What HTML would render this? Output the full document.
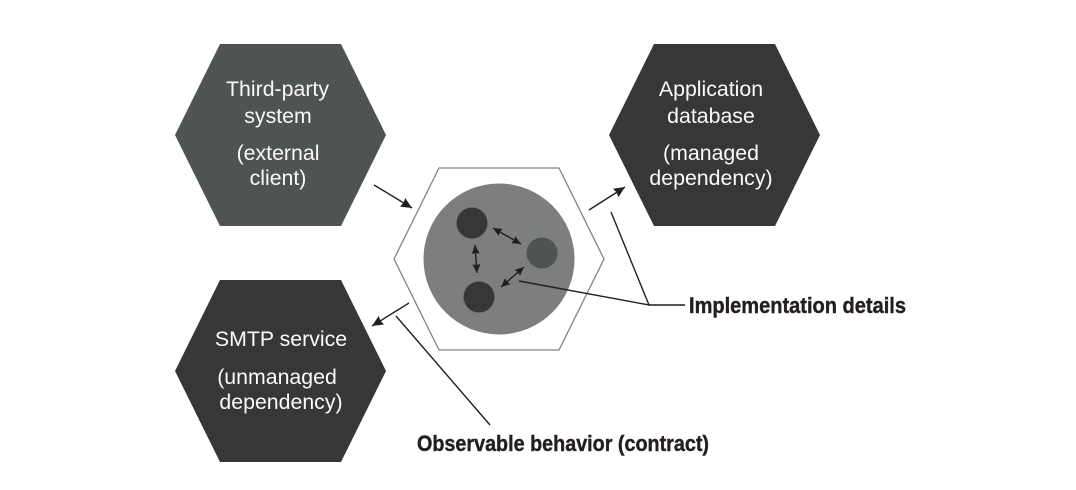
<!DOCTYPE html>
<html>
<head>
<meta charset="utf-8">
<style>
html,body{margin:0;padding:0;background:#fff;width:1076px;height:490px;overflow:hidden}
svg{display:block}
.w{font-family:"Liberation Sans",sans-serif;font-size:21.3px;fill:#fafafa;text-anchor:middle}
.b{font-family:"Liberation Sans",sans-serif;font-size:22.5px;font-weight:bold;fill:#231f20;stroke:#231f20;stroke-width:.4px}
</style>
</head>
<body>
<svg width="1076" height="490" viewBox="0 0 1076 490" xmlns="http://www.w3.org/2000/svg">
<defs>
<marker id="a" viewBox="0 0 11 10" refX="11" refY="5" markerWidth="11" markerHeight="10" markerUnits="userSpaceOnUse" orient="auto-start-reverse"><path d="M0 0L11 5L0 10L1 5Z" fill="#231f20"/></marker>
<marker id="c" viewBox="0 0 11 10" refX="11" refY="5" markerWidth="9" markerHeight="8" markerUnits="userSpaceOnUse" orient="auto-start-reverse"><path d="M0 0L11 5L0 10L1 5Z" fill="#231f20"/></marker>
</defs>
<polygon points="220,44 341,44 386,135 341,226 220,226 175,135" fill="#505354"/>
<polygon points="654,44 775,44 820,135 775,226 654,226 609,135" fill="#363739"/>
<polygon points="220,280 341,280 386,371 341,462 220,462 175,371" fill="#363739"/>
<polygon points="439,168 559,168 604,259 559,350 439,350 394,259" fill="#fff" stroke="#808284" stroke-width="1.3"/>
<circle cx="499" cy="259" r="75.5" fill="#7c7e80"/>
<circle cx="472" cy="223" r="15.5" fill="#363739"/>
<circle cx="542" cy="253" r="15.5" fill="#505354"/>
<circle cx="479" cy="297" r="15.5" fill="#363739"/>
<g fill="none" stroke="#231f20" stroke-width="1.4">
<line x1="374" y1="185" x2="412" y2="208" marker-end="url(#a)"/>
<line x1="589" y1="210" x2="625" y2="187" marker-end="url(#a)"/>
<line x1="409" y1="303" x2="372" y2="326" marker-end="url(#a)"/>
<line x1="493" y1="228" x2="521" y2="244" marker-start="url(#c)" marker-end="url(#c)"/>
<line x1="475" y1="245" x2="477" y2="273" marker-start="url(#c)" marker-end="url(#c)"/>
<line x1="524" y1="267" x2="501" y2="287" marker-start="url(#c)" marker-end="url(#c)"/>
<polyline points="611,212 649,305 519,281"/>
<line x1="649" y1="305" x2="685" y2="305"/>
<line x1="396" y1="316" x2="490" y2="425"/>
</g>
<text class="w" x="277.5" y="96">Third-party</text>
<text class="w" x="278" y="123">system</text>
<text class="w" x="278" y="160">(external</text>
<text class="w" x="278" y="185">client)</text>
<text class="w" x="711" y="96">Application</text>
<text class="w" x="711" y="123">database</text>
<text class="w" x="711" y="160">(managed</text>
<text class="w" x="711" y="185">dependency)</text>
<text class="w" x="281" y="346">SMTP service</text>
<text class="w" x="277" y="384">(unmanaged</text>
<text class="w" x="281" y="409">dependency)</text>
<text class="b" x="689" y="313" textLength="217" lengthAdjust="spacingAndGlyphs">Implementation details</text>
<text class="b" x="417" y="451" textLength="292" lengthAdjust="spacingAndGlyphs">Observable behavior (contract)</text>
</svg>
</body>
</html>
